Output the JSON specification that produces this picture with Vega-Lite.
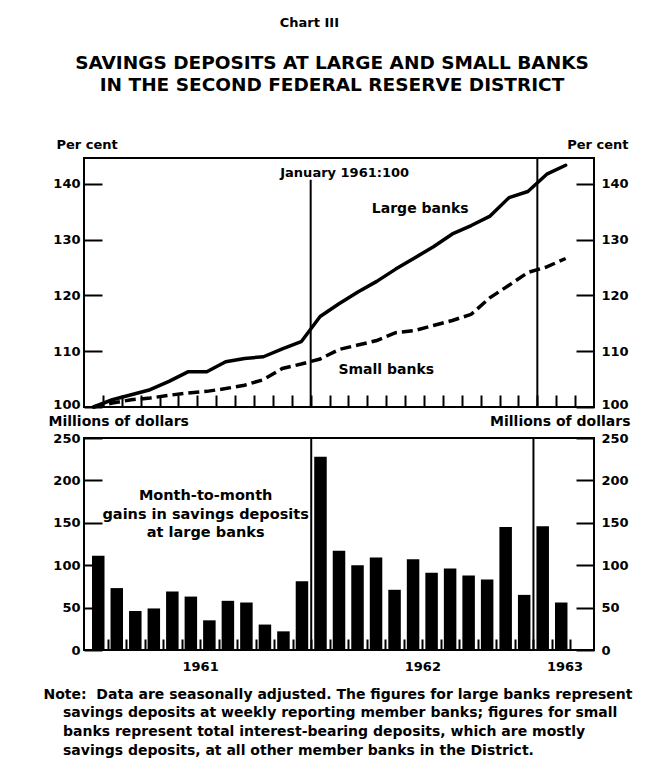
{
  "$schema": "https://vega.github.io/schema/vega-lite/v6.json",
  "background": "white",
  "padding": {"left": 42, "top": 16, "right": 10, "bottom": 10},
  "bounds": "flush",
  "spacing": 31,
  "config": {
    "font": "DejaVu Sans",
    "view": {"stroke": "black", "strokeWidth": 2},
    "axis": {
      "domain": false, "grid": false,
      "labelFont": "DejaVu Sans", "labelFontWeight": "bold", "labelColor": "black", "labelFontSize": 13,
      "tickColor": "black", "tickWidth": 2,
      "titleFont": "DejaVu Sans", "titleFontWeight": "bold", "titleColor": "black", "titleFontSize": 13
    }
  },
  "title": {
    "text": "Chart III\u00a0\u00a0\u00a0\u00a0\u00a0\u00a0\u00a0\u00a0\u00a0\u00a0\u200b",
    "subtitle": ["SAVINGS DEPOSITS AT LARGE AND SMALL BANKS", "IN THE SECOND FEDERAL RESERVE DISTRICT"],
    "anchor": "middle", "frame": "group", "offset": 43, "dx": -7,
    "font": "DejaVu Sans", "fontSize": 13, "fontWeight": "bold", "color": "black",
    "subtitleFont": "DejaVu Sans", "subtitleFontSize": 18.5, "subtitleFontWeight": "bold", "subtitleColor": "black",
    "subtitleLineHeight": 22, "subtitlePadding": 24
  },
  "datasets": {
    "monthly": [
      {"month": "1961-01", "t": 0.5, "large": 100, "small": 100, "gain": 111},
      {"month": "1961-02", "t": 1.5, "large": 101.3, "small": 100.7, "gain": 73},
      {"month": "1961-03", "t": 2.5, "large": 102.2, "small": 101.3, "gain": 46},
      {"month": "1961-04", "t": 3.5, "large": 103.1, "small": 101.6, "gain": 49},
      {"month": "1961-05", "t": 4.5, "large": 104.6, "small": 102.1, "gain": 69},
      {"month": "1961-06", "t": 5.5, "large": 106.3, "small": 102.5, "gain": 63},
      {"month": "1961-07", "t": 6.5, "large": 106.3, "small": 102.8, "gain": 35},
      {"month": "1961-08", "t": 7.5, "large": 108.1, "small": 103.3, "gain": 58},
      {"month": "1961-09", "t": 8.5, "large": 108.7, "small": 103.9, "gain": 56},
      {"month": "1961-10", "t": 9.5, "large": 109.0, "small": 104.9, "gain": 30},
      {"month": "1961-11", "t": 10.5, "large": 110.4, "small": 106.9, "gain": 22},
      {"month": "1961-12", "t": 11.5, "large": 111.7, "small": 107.7, "gain": 81},
      {"month": "1962-01", "t": 12.5, "large": 116.2, "small": 108.6, "gain": 228},
      {"month": "1962-02", "t": 13.5, "large": 118.5, "small": 110.3, "gain": 117},
      {"month": "1962-03", "t": 14.5, "large": 120.6, "small": 111.1, "gain": 100},
      {"month": "1962-04", "t": 15.5, "large": 122.5, "small": 111.9, "gain": 109},
      {"month": "1962-05", "t": 16.5, "large": 124.7, "small": 113.3, "gain": 71},
      {"month": "1962-06", "t": 17.5, "large": 126.7, "small": 113.7, "gain": 107},
      {"month": "1962-07", "t": 18.5, "large": 128.7, "small": 114.6, "gain": 91},
      {"month": "1962-08", "t": 19.5, "large": 131.0, "small": 115.5, "gain": 96},
      {"month": "1962-09", "t": 20.5, "large": 132.5, "small": 116.6, "gain": 88},
      {"month": "1962-10", "t": 21.5, "large": 134.2, "small": 119.6, "gain": 83},
      {"month": "1962-11", "t": 22.5, "large": 137.5, "small": 121.8, "gain": 145},
      {"month": "1962-12", "t": 23.5, "large": 138.6, "small": 124.1, "gain": 65},
      {"month": "1963-01", "t": 24.5, "large": 141.7, "small": 125.1, "gain": 146},
      {"month": "1963-02", "t": 25.5, "large": 143.3, "small": 126.6, "gain": 56}
    ],
    "years": [
      {"year": "1962", "t": 12},
      {"year": "1963", "t": 24}
    ]
  },
  "vconcat": [
    {
      "width": 510,
      "height": 249,
      "resolve": {"axis": {"x": "independent", "y": "independent"}},
      "layer": [
        {
          "data": {"name": "years"},
          "transform": [{"filter": "datum.year == '1963'"}],
          "mark": {"type": "rule", "color": "black", "strokeWidth": 2},
          "encoding": {
            "x": {"field": "t", "type": "quantitative", "scale": {"domain": [0, 27], "nice": false, "zero": false}, "axis": null}
          }
        },
        {
          "data": {"name": "years"},
          "transform": [{"filter": "datum.year == '1962'"}],
          "mark": {"type": "rule", "color": "black", "strokeWidth": 2},
          "encoding": {
            "x": {"field": "t", "type": "quantitative", "scale": {"domain": [0, 27], "nice": false, "zero": false}, "axis": null},
            "y": {"datum": 100, "type": "quantitative", "scale": {"domain": [100, 144.6], "nice": false, "zero": false}, "axis": null},
            "y2": {"datum": 140.7}
          }
        },
        {
          "data": {"name": "monthly"},
          "mark": {"type": "line", "color": "black", "strokeWidth": 3.5, "strokeJoin": "round", "strokeCap": "round"},
          "encoding": {
            "x": {"field": "t", "type": "quantitative", "scale": {"domain": [0, 27], "nice": false, "zero": false},
              "axis": {"orient": "bottom", "values": [1,2,3,4,5,6,7,8,9,10,11,12,13,14,15,16,17,18,19,20,21,22,23,24,25,26], "labels": false, "tickSize": -12, "title": null}},
            "y": {"field": "large", "type": "quantitative", "scale": {"domain": [100, 144.6], "nice": false, "zero": false},
              "axis": {"orient": "left", "values": [100, 110, 120, 130, 140], "tickSize": -18, "labelPadding": 22,
                "labelOffset": {"condition": {"test": "datum.value == 100", "value": -3}, "value": 0},
                "title": "Per cent", "titleAngle": 0, "titleAlign": "left", "titleBaseline": "middle", "titleX": -28, "titleY": -14}}
          }
        },
        {
          "data": {"name": "monthly"},
          "mark": {"type": "line", "color": "black", "strokeWidth": 3.5, "strokeDash": [11, 5]},
          "encoding": {
            "x": {"field": "t", "type": "quantitative", "scale": {"domain": [0, 27], "nice": false, "zero": false}, "axis": null},
            "y": {"field": "small", "type": "quantitative", "scale": {"domain": [100, 144.6], "nice": false, "zero": false},
              "axis": {"orient": "right", "values": [100, 110, 120, 130, 140], "tickSize": -18, "labelPadding": 25,
                "labelOffset": {"condition": {"test": "datum.value == 100", "value": -3}, "value": 0},
                "title": "Per cent", "titleAngle": 0, "titleAlign": "right", "titleBaseline": "middle", "titleX": 34, "titleY": -14}}
          }
        },
        {
          "data": {"values": [{"label": "January 1961:100"}]},
          "mark": {"type": "text", "font": "DejaVu Sans", "fontWeight": "bold", "fontSize": 13, "color": "black"},
          "encoding": {
            "text": {"field": "label"},
            "x": {"datum": 13.8, "type": "quantitative", "scale": {"domain": [0, 27], "nice": false, "zero": false}, "axis": null},
            "y": {"datum": 142.0, "type": "quantitative", "scale": {"domain": [100, 144.6], "nice": false, "zero": false}, "axis": null}
          }
        },
        {
          "data": {"values": [{"label": "Large banks"}]},
          "mark": {"type": "text", "font": "DejaVu Sans", "fontWeight": "bold", "fontSize": 14, "color": "black"},
          "encoding": {
            "text": {"field": "label"},
            "x": {"datum": 17.8, "type": "quantitative", "scale": {"domain": [0, 27], "nice": false, "zero": false}, "axis": null},
            "y": {"datum": 135.4, "type": "quantitative", "scale": {"domain": [100, 144.6], "nice": false, "zero": false}, "axis": null}
          }
        },
        {
          "data": {"values": [{"label": "Small banks"}]},
          "mark": {"type": "text", "font": "DejaVu Sans", "fontWeight": "bold", "fontSize": 14, "color": "black"},
          "encoding": {
            "text": {"field": "label"},
            "x": {"datum": 16.0, "type": "quantitative", "scale": {"domain": [0, 27], "nice": false, "zero": false}, "axis": null},
            "y": {"datum": 106.6, "type": "quantitative", "scale": {"domain": [100, 144.6], "nice": false, "zero": false}, "axis": null}
          }
        }
      ]
    },
    {
      "width": 510,
      "height": 212,
      "resolve": {"axis": {"x": "independent", "y": "independent"}},
      "layer": [
        {
          "data": {"name": "years"},
          "mark": {"type": "rule", "color": "black", "strokeWidth": 2},
          "encoding": {
            "x": {"field": "t", "type": "quantitative", "scale": {"domain": [0, 27], "nice": false, "zero": false}, "axis": null}
          }
        },
        {
          "data": {"name": "monthly"},
          "mark": {"type": "bar", "color": "black", "size": 12.5},
          "encoding": {
            "x": {"field": "t", "type": "quantitative", "scale": {"domain": [0, 27], "nice": false, "zero": false},
              "axis": {"orient": "bottom", "values": [1,2,3,4,5,6,7,8,9,10,11,12,13,14,15,16,17,18,19,20,21,22,23,24,25,26],
                "tickSize": -11, "labelPadding": 21, "labelFontSize": 13,
                "labelExpr": "datum.value == 6 ? '1961' : datum.value == 18 ? '1962' : datum.value == 26 ? '1963' : ''",
                "labelOffset": {"condition": {"test": "datum.value == 26", "value": -6}, "value": 0},
                "title": [
                  "Note:\u00a0 Data are seasonally adjusted. The figures for large banks represent",
                  "\u200b\u00a0\u00a0\u00a0\u00a0savings deposits at weekly reporting member banks; figures for small",
                  "\u200b\u00a0\u00a0\u00a0\u00a0banks represent total interest-bearing deposits, which are mostly",
                  "\u200b\u00a0\u00a0\u00a0\u00a0savings deposits, at all other member banks in the District."
                ],
                "titleAnchor": "start", "titleAlign": "left", "titleBaseline": "top", "titleX": -41, "titleY": 37,
                "titleLineHeight": 18.7, "titleFontSize": 14}},
            "y": {"field": "gain", "type": "quantitative", "scale": {"domain": [0, 250], "nice": false},
              "axis": {"orient": "left", "values": [0, 50, 100, 150, 200, 250], "tickSize": -18, "labelPadding": 22,
                "title": "Millions of dollars", "titleFontSize": 14, "titleAngle": 0, "titleAlign": "left", "titleBaseline": "middle", "titleX": -36, "titleY": -17}}
          }
        },
        {
          "data": {"name": "monthly"},
          "mark": {"type": "bar", "color": "black", "size": 12.5, "opacity": 0},
          "encoding": {
            "x": {"field": "t", "type": "quantitative", "scale": {"domain": [0, 27], "nice": false, "zero": false}, "axis": null},
            "y": {"field": "gain", "type": "quantitative", "scale": {"domain": [0, 250], "nice": false},
              "axis": {"orient": "right", "values": [0, 50, 100, 150, 200, 250], "tickSize": -18, "labelPadding": 25,
                "title": "Millions of dollars", "titleFontSize": 14, "titleAngle": 0, "titleAlign": "right", "titleBaseline": "middle", "titleX": 36, "titleY": -17}}
          }
        },
        {
          "data": {"values": [{"label": ["Month-to-month", "gains in savings deposits", "at large banks"]}]},
          "mark": {"type": "text", "font": "DejaVu Sans", "fontWeight": "bold", "fontSize": 14.5, "color": "black", "lineHeight": 18.7},
          "encoding": {
            "text": {"field": "label"},
            "x": {"datum": 6.3, "type": "quantitative", "scale": {"domain": [0, 27], "nice": false, "zero": false}, "axis": null},
            "y": {"datum": 181.6, "type": "quantitative", "scale": {"domain": [0, 250], "nice": false}, "axis": null}
          }
        }
      ]
    }
  ]
}
